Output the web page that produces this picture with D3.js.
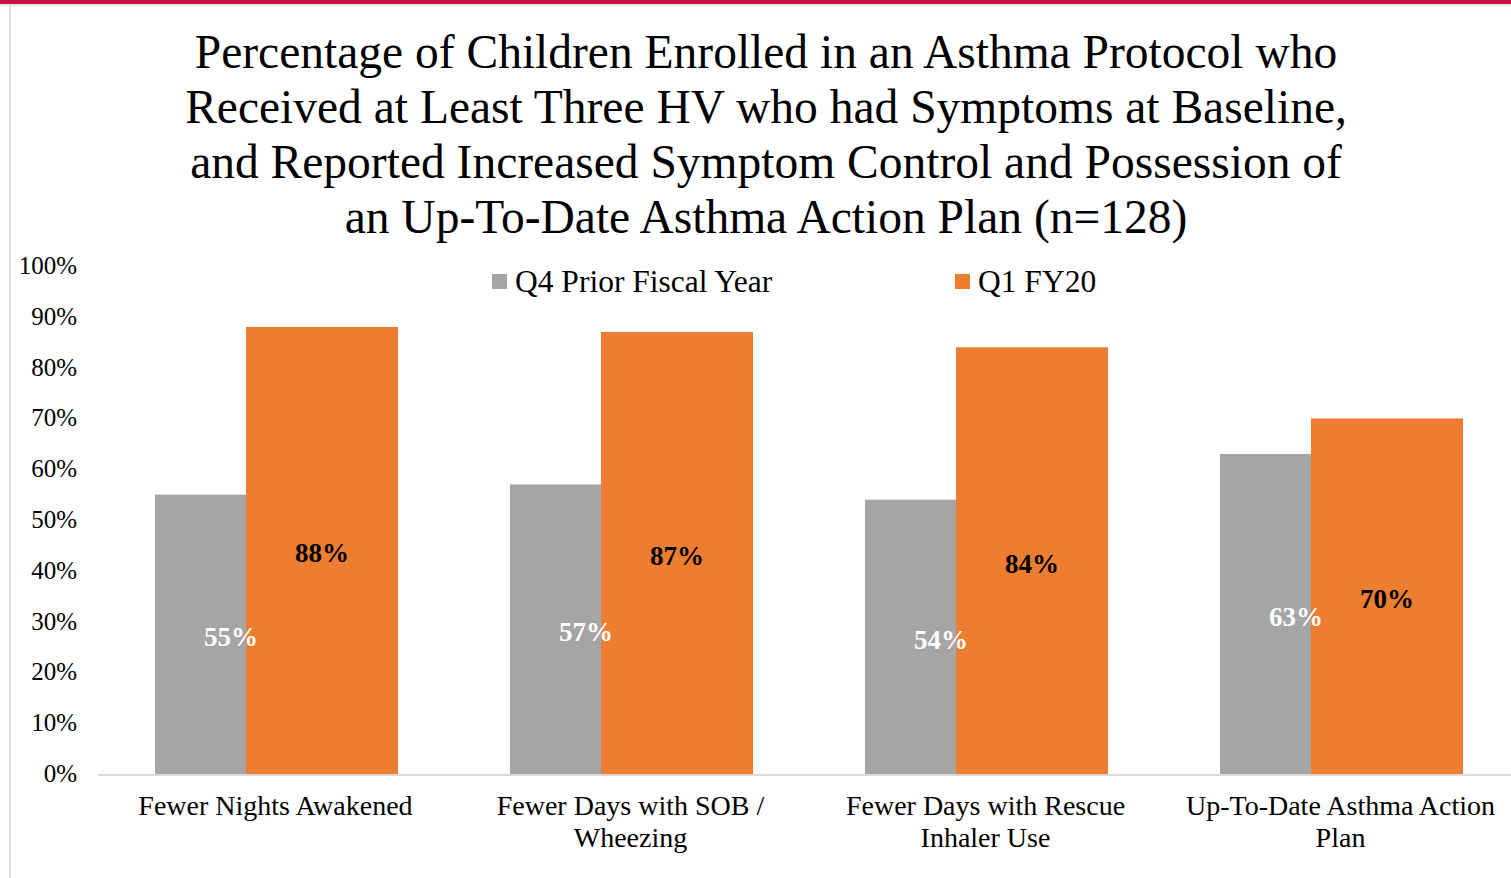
<!DOCTYPE html>
<html>
<head>
<meta charset="utf-8">
<script src="https://cdn.jsdelivr.net/npm/d3@7"></script>
<style>
  body { margin: 0; background: #fff; }
  svg { display: block; font-family: "Liberation Serif", "Times New Roman", serif; }
</style>
</head>
<body>
<div id="viz_container"></div>
<script>
// chart data
const categories = ["Fewer Nights Awakened", "Fewer Days with SOB / Wheezing", "Fewer Days with Rescue Inhaler Use", "Up-To-Date Asthma Action Plan"];
const seriesNames = ["Q4 Prior Fiscal Year", "Q1 FY20"];
const priorYear = [55, 57, 54, 63];
const fy20 = [88, 87, 84, 70];
const yTicks = [0, 10, 20, 30, 40, 50, 60, 70, 80, 90, 100];
const titleLines = [
    "Percentage of Children Enrolled in an Asthma Protocol who",
    "Received at Least Three HV who had Symptoms at Baseline,",
    "and Reported Increased Symptom Control and Possession of",
    "an Up-To-Date Asthma Action Plan (n=128)"
];

var W = 1511, H = 878;
var colors = ["#A5A5A5", "#ED7D31"];

var svg = d3.select("#viz_container").append("svg")
    .attr("width", W)
    .attr("height", H);

// frame: red strip at top, thin grey lines
svg.append("rect").attr("x", 0).attr("y", 0).attr("width", W).attr("height", 4).attr("fill", "#C8103E");
svg.append("rect").attr("x", 0).attr("y", 4).attr("width", W).attr("height", 2).attr("fill", "#E3E3E3");
svg.append("rect").attr("x", 9).attr("y", 6).attr("width", 2).attr("height", H - 6).attr("fill", "#DCDCDC");

// title
svg.append("g").selectAll("text")
    .data(titleLines)
  .enter().append("text")
    .attr("x", 766)
    .attr("y", (d, i) => 68 + i * 55)
    .attr("text-anchor", "middle")
    .style("font-size", "47.5px")
    .style("fill", "#000")
    .text(d => d);

// scales
var x = d3.scaleBand().domain(categories).range([98, 1518]);
var y = d3.scaleLinear().domain([0, 100]).range([774, 266]);
var barW = 152;       // each bar width
var barOff = 57;      // from band start to grey bar
var overlap = 61;     // orange overlaps grey

// y axis labels
svg.append("g").selectAll("text")
    .data(yTicks)
  .enter().append("text")
    .attr("x", 77)
    .attr("y", d => y(d) + 8)
    .attr("text-anchor", "end")
    .style("font-size", "25px")
    .text(d => d + "%");

// baseline
svg.append("line")
    .attr("x1", 98).attr("x2", W)
    .attr("y1", y(0) + 1).attr("y2", y(0) + 1)
    .attr("stroke", "#D9D9D9").attr("stroke-width", 2);

var rows = categories.map((c, i) => ({ cat: c, vals: [priorYear[i], fy20[i]] }));

function barX(d, s) {
    return x(d.cat) + barOff + s * (barW - overlap);
}

// bars
[0, 1].forEach(function(s) {
    svg.append("g").selectAll("rect")
        .data(rows)
      .enter().append("rect")
        .attr("x", d => barX(d, s))
        .attr("y", d => y(d.vals[s]))
        .attr("width", barW)
        .attr("height", d => y(0) - y(d.vals[s]))
        .attr("fill", colors[s]);
});

// data labels (centered in bar)
[0, 1].forEach(function(s) {
    svg.append("g").selectAll("text")
        .data(rows)
      .enter().append("text")
        .attr("x", d => barX(d, s) + barW / 2)
        .attr("y", d => (y(0) + y(d.vals[s])) / 2 + 12)
        .attr("text-anchor", "middle")
        .style("font-size", "27px")
        .style("font-weight", "bold")
        .style("fill", s === 0 ? "#fff" : "#000")
        .text(d => d.vals[s] + "%");
});

// category labels, wrapped
var catText = svg.append("g").selectAll("text")
    .data(categories)
  .enter().append("text")
    .attr("x", d => x(d) + x.bandwidth() / 2)
    .attr("y", 815)
    .attr("text-anchor", "middle")
    .style("font-size", "28px");

catText.each(function(d) {
    var t = d3.select(this), words = d.split(" "), line = [];
    var ts = t.append("tspan").attr("x", t.attr("x")).attr("dy", 0);
    words.forEach(function(w) {
        line.push(w);
        ts.text(line.join(" "));
        if (ts.node().getComputedTextLength() > 335 && line.length > 1) {
            line.pop();
            ts.text(line.join(" "));
            line = [w];
            ts = t.append("tspan").attr("x", t.attr("x")).attr("dy", "32px").text(w);
        }
    });
});

// legend
var legend = svg.append("g").selectAll("g")
    .data(seriesNames)
  .enter().append("g")
    .attr("transform", (d, i) => "translate(" + [492, 955][i] + ",274)");

legend.append("rect")
    .attr("width", 15).attr("height", 15)
    .attr("fill", (d, i) => colors[i]);

legend.append("text")
    .attr("x", 23)
    .attr("y", 18)
    .style("font-size", "31.5px")
    .text(d => d);
</script>
</body>
</html>
